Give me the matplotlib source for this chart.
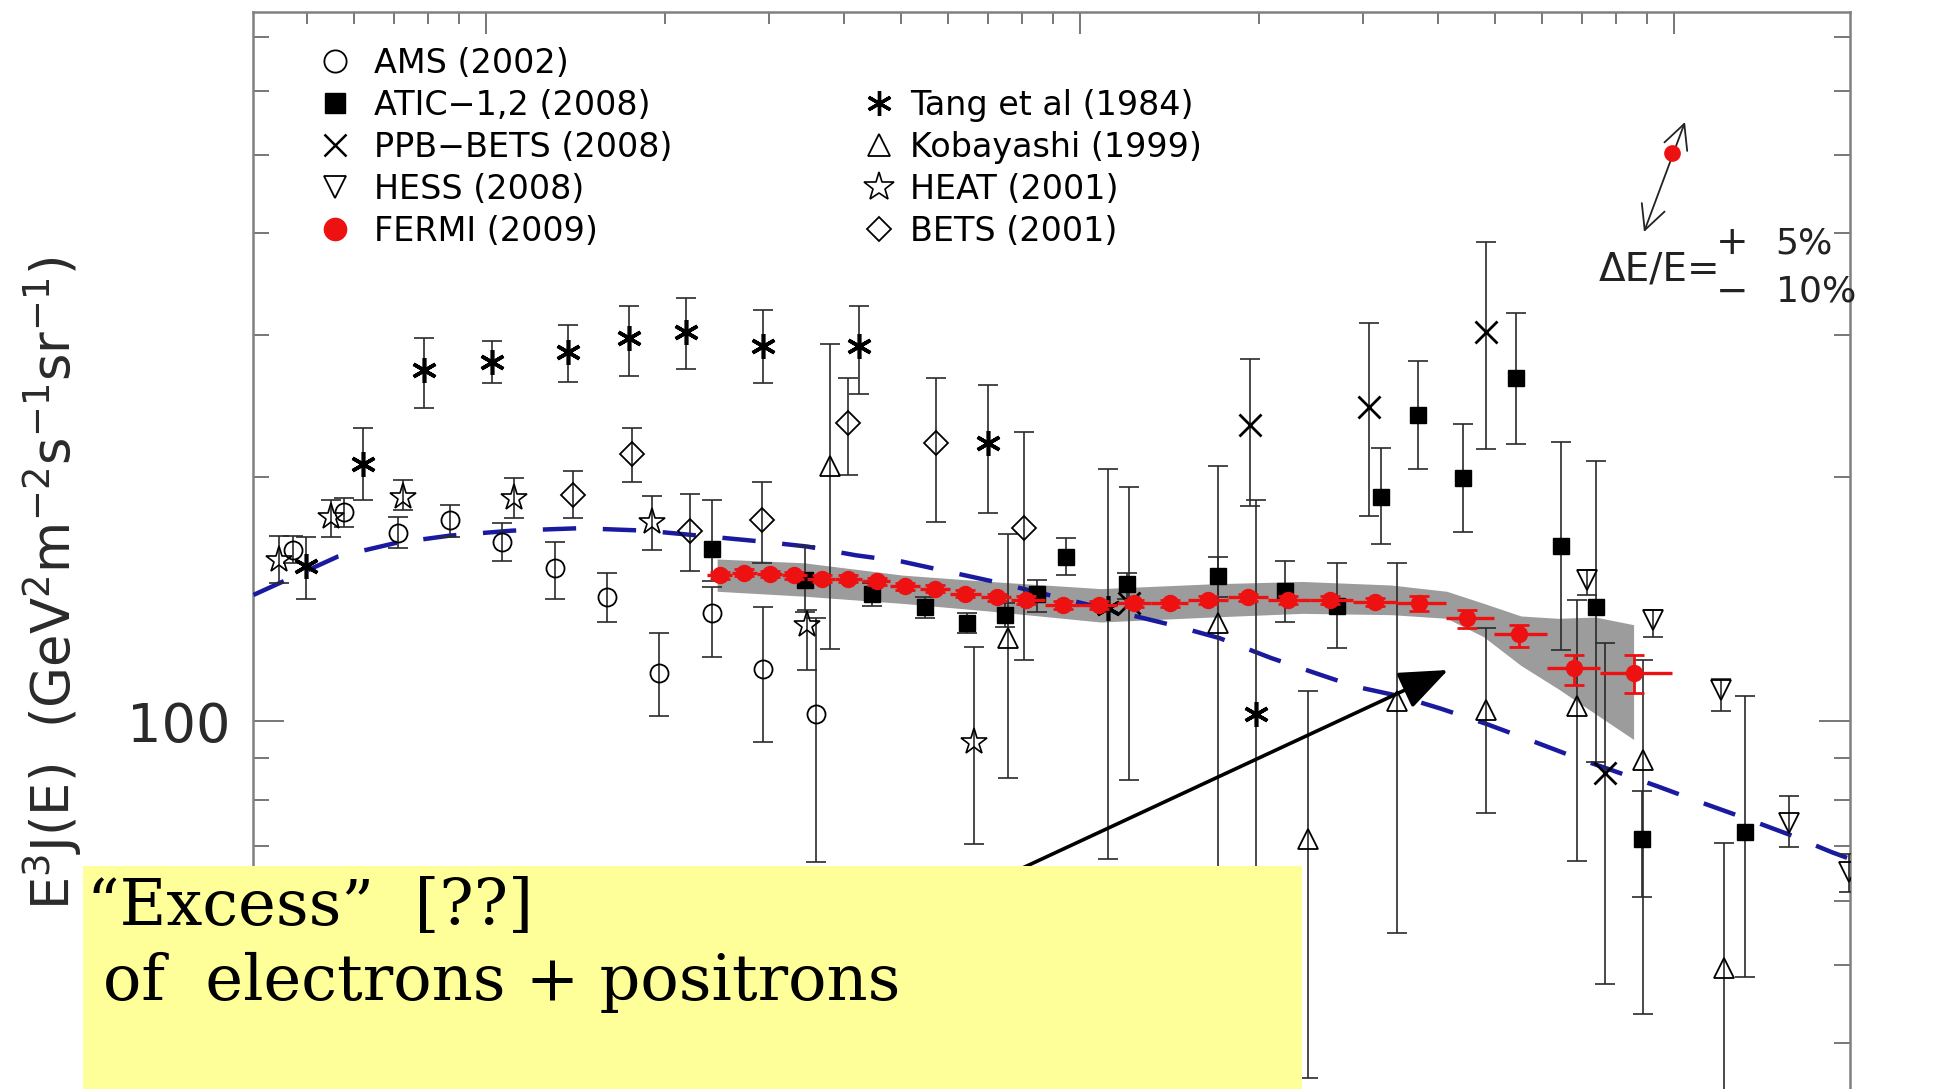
import matplotlib
matplotlib.use('Agg')
import matplotlib.pyplot as plt
from matplotlib.lines import Line2D
from matplotlib.patches import Rectangle
from matplotlib.ticker import LogLocator, FuncFormatter, NullFormatter
import numpy as np

# ---------------- data (E in GeV, E^3 J(E) in GeV^2 m^-2 s^-1 sr^-1) ----------------
ams_E  = [4.73, 5.76, 7.11, 8.70, 10.64, 13.08, 16.00, 19.56, 24.04, 29.26, 35.96]
ams_F  = [162.5, 181.1, 170.6, 177.3, 166.5, 154.6, 142.1, 114.7, 135.8, 115.9, 102.1]
ams_lo = [156.8, 173.6, 163.6, 168.8, 157.4, 141.6, 132.5, 101.4, 120.0, 94.2, 67.0]
ams_hi = [169.4, 188.3, 178.6, 185.0, 175.5, 166.5, 152.5, 128.3, 146.2, 138.2, 133.9]

atic_E  = [24.04, 34.44, 44.62, 54.83, 64.54, 74.87, 84.80, 94.70, 119.8, 170.8,
           221.2, 270.5, 321.5, 371.2, 441.1, 542.2, 644.4, 740.4, 884.3, 1316]
atic_F  = [163.0, 149.3, 143.6, 138.2, 132.0, 135.3, 143.6, 159.6, 147.7, 150.9,
           144.6, 138.7, 189.0, 238.4, 199.3, 264.8, 164.7, 138.2, 71.6, 72.9]
atic_lo = [148.7, 136.2, 138.7, 133.9, 128.3, 130.6, 136.2, 151.4, 141.6, 142.1,
           132.5, 123.0, 165.3, 204.9, 171.2, 219.8, 122.2, 89.1, 60.7, 48.3]
atic_hi = [187.7, 164.7, 148.2, 142.1, 135.8, 139.7, 149.3, 168.2, 152.5, 159.6,
           157.4, 156.8, 217.4, 278.2, 232.5, 319.0, 221.3, 209.3, 81.9, 107.3]

ppb_E  = [120.9, 193.4, 306.5, 483.3, 765.6]
ppb_F  = [139.7, 231.7, 244.2, 302.6, 86.3]
ppb_lo = [84.5, 184.4, 179.2, 216.7, 47.3]
ppb_hi = [194.4, 280.2, 310.1, 389.8, 124.8]

hess_E  = [712.6, 923.2, 1201, 1564, 1968]
hess_F  = [149.3, 133.4, 109.2, 74.9, 65.1]
hess_lo = [143.1, 127.0, 102.9, 69.9, 61.5]
hess_hi = [153.5, 137.2, 112.7, 80.7, 68.5]

tang_E  = [4.97, 6.22, 7.87, 10.24, 13.72, 17.44, 21.74, 29.26, 42.53, 70.02, 111.5, 198.2]
tang_F  = [155.2, 207.8, 271.4, 277.2, 285.1, 297.3, 302.6, 290.1, 290.1, 220.5, 137.7, 102.1]
tang_lo = [141.6, 187.7, 243.4, 261.1, 262.0, 266.7, 272.4, 261.1, 253.0, 180.5, 67.5, 30.0]
tang_hi = [168.8, 230.1, 297.3, 294.2, 307.9, 325.8, 332.8, 321.3, 325.8, 260.2, 204.9, 187.7]

koba_E  = [37.91, 75.59, 170.8, 242.3, 342.2, 483.3, 685.8, 888.5, 1213]
koba_F  = [206.3, 126.6, 132.0, 71.6, 105.8, 103.2, 104.3, 89.4, 49.5]
koba_lo = [122.6, 85.1, 30.0, 36.2, 54.8, 77.1, 67.2, 43.5, 25.0]
koba_hi = [292.1, 170.0, 206.3, 108.8, 156.8, 130.2, 141.1, 118.8, 70.6]

heat_E  = [4.49, 5.49, 7.25, 11.16, 19.01, 34.77, 66.42]
heat_F  = [157.9, 178.6, 189.0, 188.3, 176.1, 131.5, 94.2]
heat_lo = [148.2, 168.8, 182.4, 178.0, 162.5, 115.5, 70.4]
heat_hi = [169.4, 187.7, 198.6, 199.3, 189.6, 137.2, 123.5]

bets_E  = [13.99, 17.61, 22.05, 29.12, 40.73, 57.25, 80.44]
bets_F  = [190.3, 213.6, 171.8, 177.3, 233.3, 220.5, 173.0]
bets_lo = [178.0, 197.2, 153.0, 156.8, 201.4, 176.1, 118.8]
bets_hi = [203.5, 230.1, 190.9, 197.2, 264.8, 264.8, 227.7]

fermi_E = [24.75, 27.23, 30.12, 32.99, 36.83, 40.73, 45.49, 50.78, 56.98, 63.92, 72.41,
           81.21, 93.79, 107.8, 123.3, 141.6, 164.3, 191.6, 224.4, 264.1, 313.9, 372.9,
           447.5, 547.4, 679.3, 855.1]
fermi_F = [151.4, 152.5, 151.9, 151.4, 149.8, 149.8, 148.7, 146.7, 145.7, 143.6, 142.1,
           141.1, 139.1, 139.1, 139.7, 139.7, 141.1, 142.1, 141.1, 141.1, 140.2, 139.7,
           133.9, 127.9, 116.3, 114.7]
fermi_err_lo = [1.5, 1.5, 1.5, 1.5, 1.5, 1.5, 1.5, 1.5, 1.5, 1.5, 1.5, 1.5, 1.5, 1.5,
                1.5, 1.5, 1.5, 1.5, 1.5, 1.5, 1.5, 3.0, 3.7, 4.4, 5.6, 6.3]
fermi_err_hi = [1.5, 1.5, 1.5, 1.5, 1.5, 1.5, 1.5, 1.5, 1.5, 1.5, 1.5, 1.5, 1.5, 1.5,
                1.5, 1.5, 1.5, 1.5, 1.5, 1.5, 1.5, 2.9, 3.3, 3.6, 4.2, 5.8]
fermi_edges = [23.59, 25.96, 28.57, 31.45, 34.77, 38.64, 42.94, 47.95, 53.79, 60.34,
               68.03, 76.68, 87.30, 100.3, 115.3, 131.8, 152.2, 177.5, 206.9, 243.5,
               288.0, 342.2, 412.5, 497.4, 611.2, 751.1, 992.0]

band_E  = [24.5, 34.3, 50.3, 70.4, 108.3, 166.7, 236.6, 334.1, 414.5, 478.6, 552.6,
           638.1, 736.8, 855.1]
band_hi = [158.5, 156.8, 151.4, 148.7, 145.7, 147.7, 148.7, 147.2, 144.6, 139.7, 134.8,
           133.9, 134.4, 131.5]
band_lo = [144.6, 142.6, 139.7, 136.7, 132.5, 134.4, 135.8, 135.3, 133.9, 127.0, 117.1,
           109.6, 102.1, 94.9]

model_E = [4.06, 5.63, 7.05, 8.70, 11.06, 14.39, 18.56, 24.04, 29.26, 34.77, 41.92,
           50.06, 59.76, 71.38, 144.4, 171.6, 209.9, 244.7, 290.7, 345.5, 404.7, 480.9,
           576.9, 695.7, 787.9, 940.8, 1113, 1322, 1564, 1841, 1987]
model_F = [143.1, 159.6, 165.9, 169.4, 171.8, 173.0, 171.8, 168.8, 166.5, 164.2, 160.2,
           157.4, 153.0, 148.7, 131.1, 126.6, 119.6, 115.1, 110.3, 107.3, 103.6, 99.3,
           94.5, 89.7, 86.9, 83.0, 79.3, 75.8, 72.4, 68.9, 67.5]

labels_left = ['AMS (2002)', 'ATIC\u22121,2 (2008)', 'PPB\u2212BETS (2008)', 'HESS (2008)', 'FERMI (2009)']
labels_right = ['Tang et al (1984)', 'Kobayashi (1999)', 'HEAT (2001)', 'BETS (2001)']

# ---------------- figure ----------------
W, H = 1939, 1089
fig = plt.figure(figsize=(W / 100, H / 100), dpi=100)
fig.patch.set_facecolor('white')
ax = fig.add_axes([253 / W, 1 - 1531 / H, (1850 - 253) / W, (1531 - 12) / H])
ax.set_xscale('log')
ax.set_yscale('log')
ax.set_xlim(4.053, 1978.6)
ax.set_ylim(10, 750.5)

for s in ax.spines.values():
    s.set_color('#808080')
    s.set_linewidth(1.8)

ax.xaxis.set_major_locator(LogLocator(base=10, numticks=10))
ax.xaxis.set_minor_locator(LogLocator(base=10, subs=np.arange(2, 10), numticks=30))
ax.yaxis.set_major_locator(LogLocator(base=10, numticks=10))
ax.yaxis.set_minor_locator(LogLocator(base=10, subs=np.arange(2, 10), numticks=30))
ax.xaxis.set_minor_formatter(NullFormatter())
ax.yaxis.set_minor_formatter(NullFormatter())
ylo, yhi = ax.get_ylim()
ax.yaxis.set_major_formatter(FuncFormatter(lambda v, p: f'{v:g}' if 40 <= v <= yhi else ''))
ax.tick_params(axis='both', which='both', direction='in', top=True, right=True,
               bottom=True, left=True, color='#777777', width=1.4)
ax.tick_params(axis='x', which='major', length=16, labelbottom=False)
ax.tick_params(axis='x', which='minor', length=8.5)
ax.tick_params(axis='y', which='major', length=22, labelsize=39, pad=16, labelcolor='#2a2a2a')
ax.tick_params(axis='y', which='minor', length=11.5)

# systematic band and model curve
ax.fill_between(band_E, band_lo, band_hi, color='#9c9c9c', lw=0, zorder=2)
ax.plot(model_E, model_F, color='#1a1aa0', lw=3.2, dashes=(7.5, 6), zorder=3)


def series(E, F, lo, hi, marker, ms, filled, mew, z=4):
    E = np.asarray(E, float)
    F = np.asarray(F, float)
    yerr = np.vstack([F - np.asarray(lo, float), np.asarray(hi, float) - F])
    ax.errorbar(E, F, yerr=yerr, fmt='none', ecolor='#2a2a2a', elinewidth=1.2,
                capsize=7.5, capthick=1.2, zorder=z)
    ax.plot(E, F, linestyle='none', marker=marker, ms=ms,
            mfc='black' if filled else 'none', mec='black', mew=mew, zorder=z + 0.5)


series(ams_E, ams_F, ams_lo, ams_hi, 'o', 13, False, 1.3)
series(atic_E, atic_F, atic_lo, atic_hi, 's', 11.5, True, 1.0)
series(ppb_E, ppb_F, ppb_lo, ppb_hi, 'x', 16, False, 2.0)
series(hess_E, hess_F, hess_lo, hess_hi, 'v', 15, False, 1.3)
series(tang_E, tang_F, tang_lo, tang_hi, (6, 2, 0), 18, False, 2.6)
series(koba_E, koba_F, koba_lo, koba_hi, '^', 15, False, 1.3)
series(heat_E, heat_F, heat_lo, heat_hi, '*', 20, False, 1.2)
series(bets_E, bets_F, bets_lo, bets_hi, 'D', 12.5, False, 1.3)

# FERMI
fE = np.asarray(fermi_E)
fF = np.asarray(fermi_F)
edges = np.asarray(fermi_edges)
ax.errorbar(fE, fF, xerr=[fE - edges[:-1], edges[1:] - fE], fmt='none', ecolor='#ee1111',
            elinewidth=2.4, capsize=0, zorder=6)
ax.errorbar(fE, fF, yerr=[fermi_err_lo, fermi_err_hi], fmt='none', ecolor='#ee1111',
            elinewidth=2.0, capsize=7, capthick=2.0, zorder=6)
ax.plot(fE, fF, linestyle='none', marker='o', ms=11.5, mfc='#ee1111', mec='#ee1111', zorder=7)

# legends
def proxy(marker, ms, filled, mew, color='black'):
    return Line2D([], [], linestyle='none', marker=marker, ms=ms,
                  mfc=color if filled else 'none', mec=color, mew=mew)

h_left = [proxy('o', 16, False, 1.3), proxy('s', 14, True, 1.0), proxy('x', 16, False, 1.8),
          proxy('v', 16, False, 1.3), proxy('o', 16, True, 1.0, '#ee1111')]
h_right = [proxy((6, 2, 0), 18, False, 2.4), proxy('^', 16, False, 1.3),
           proxy('*', 22, False, 1.2), proxy('D', 12, False, 1.3)]
legprops = dict(frameon=False, prop={'family': 'DejaVu Sans', 'size': 24}, handlelength=1.0,
                labelspacing=0.27, borderpad=0, borderaxespad=0, loc='upper left')
fig.legend(h_left, labels_left, bbox_to_anchor=(318 / W, 1 - 47 / H), handletextpad=0.68, **legprops)
fig.legend(h_right, labels_right, bbox_to_anchor=(862 / W, 1 - 89 / H), handletextpad=0.45, **legprops)

# y label
fig.text(52 / W, 1 - 583 / H, r'E$^{3}$J(E)  (GeV$^{2}$m$^{-2}$s$^{-1}$sr$^{-1}$)',
         rotation=90, fontsize=38, ha='center', va='center', color='#2a2a2a')

# energy resolution annotation
ax.annotate('', xy=(1685, H - 122), xycoords='figure pixels', xytext=(1644, H - 232),
            textcoords='figure pixels', annotation_clip=False,
            arrowprops=dict(arrowstyle='<->,head_length=0.7,head_width=0.35', mutation_scale=25,
                            lw=1.3, color='#222222', shrinkA=0, shrinkB=0))
fig.add_artist(Line2D([1672 / W], [1 - 153 / H], transform=fig.transFigure, marker='o', ms=11,
                      color='#ee1111', linestyle='none'))
fig.text(1599 / W, 1 - 281 / H, '\u0394E/E=', fontsize=28, ha='left', va='baseline', color='#222222')
fig.text(1732 / W, 1 - 243 / H, '+', fontsize=28, ha='center', va='center', color='#222222')
fig.text(1732 / W, 1 - 292 / H, '\u2212', fontsize=28, ha='center', va='center', color='#222222')
fig.text(1775 / W, 1 - 243 / H, '5%', fontsize=26, ha='left', va='center', color='#222222')
fig.text(1776 / W, 1 - 292 / H, '10%', fontsize=26, ha='left', va='center', color='#222222')

# excess arrow (under the note box)
ax.annotate('', xy=(1448, H - 670), xycoords='figure pixels', xytext=(900, H - 925),
            textcoords='figure pixels', annotation_clip=False,
            arrowprops=dict(arrowstyle='-|>,head_length=0.5,head_width=0.2', mutation_scale=60,
                            lw=2.6, color='black', shrinkA=0, shrinkB=0), zorder=9)

# yellow note box
fig.add_artist(Rectangle((83 / W, 0), (1302 - 83) / W, (H - 866) / H, transform=fig.transFigure,
                         facecolor='#ffff99', edgecolor='none', zorder=10))
fig.text(87 / W, 1 - 925 / H, '\u201cExcess\u201d  [??]', fontsize=46, family='DejaVu Serif',
         ha='left', va='baseline', color='black', zorder=11)
fig.text(103 / W, 1 - 1000 / H, 'of  electrons + positrons', fontsize=46, family='DejaVu Serif',
         ha='left', va='baseline', color='black', zorder=11)

fig.savefig('out.png', dpi=100)
